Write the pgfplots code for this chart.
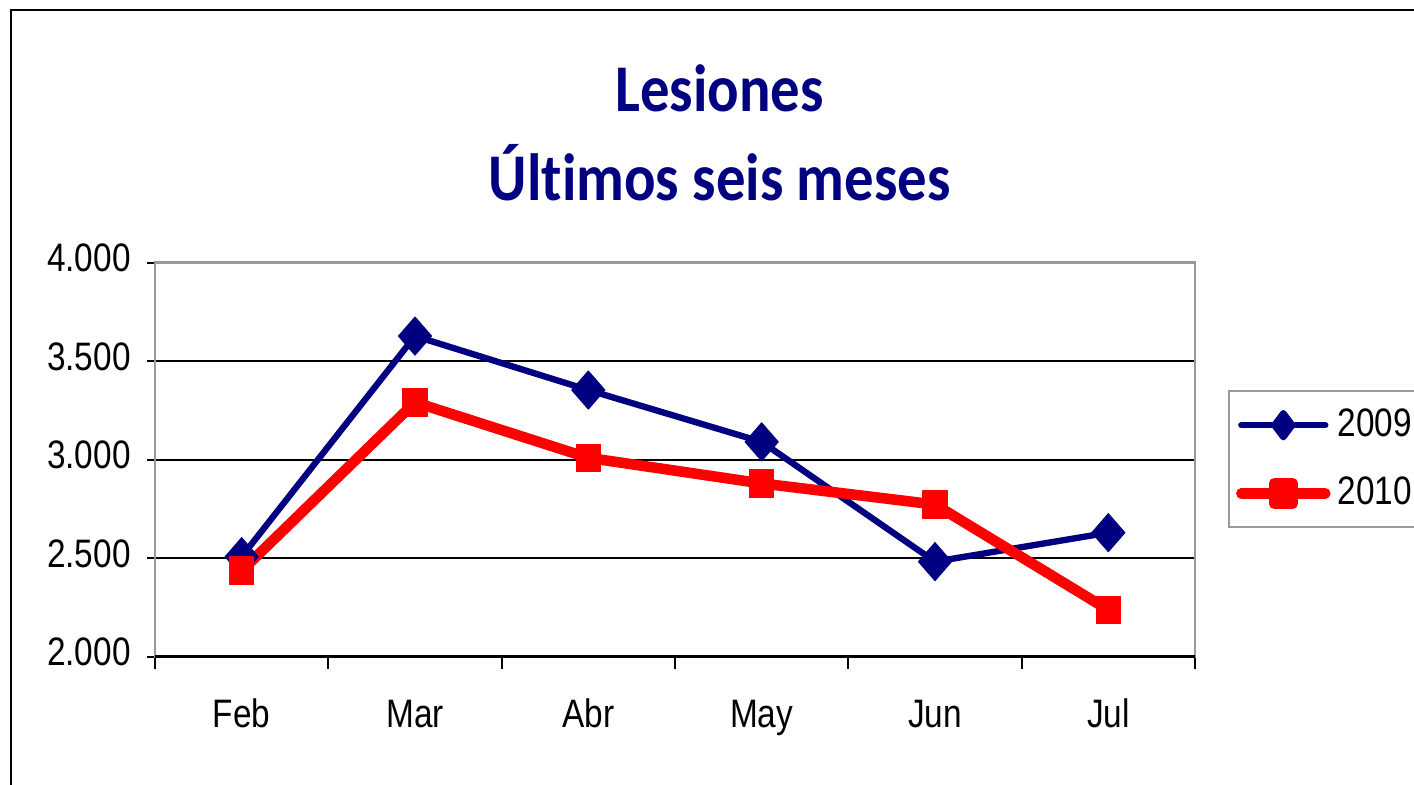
\documentclass[border=0pt]{standalone}
\usepackage{fontspec}
\setmainfont{Liberation Sans}
\newfontfamily\narrowfont[FakeStretch=0.84]{Liberation Sans}
\newfontfamily\titlefont[FakeStretch=0.88, Ligatures={NoCommon}]{Carlito}
\usepackage{pgfplots}
\pgfplotsset{compat=1.18}
\definecolor{navy}{RGB}{0,0,128}

\begin{document}
\begin{tikzpicture}
\begin{axis}[
    name=ax,
    scale only axis,
    width=10.40cm, height=3.94cm,
    clip=false,
    xmin=-0.5, xmax=5.5,
    ymin=2000, ymax=4000,
    xtick={0,...,5},
    xticklabels={Feb,Mar,Abr,May,Jun,Jul},
    minor xtick={-0.5,0.5,...,5.5},
    major x tick style={draw=none},
    xtick pos=lower, ytick pos=left,
    ytick={2000,2500,...,4000},
    ymajorgrids,
    grid style={black, line width=0.5pt},
    tick align=outside,
    major tick length=0.08cm,
    minor tick length=0.12cm,
    axis line style={gray!80, line width=0.8pt},
    tick style={black, line width=0.5pt},
    typeset ticklabels with strut,
    ticklabel style={font=\narrowfont\fontsize{11.3}{13}\selectfont},
    xticklabel style={yshift=-0.18cm},
    yticklabel style={xshift=-0.04cm},
    /pgf/number format/1000 sep={.},
    /pgf/number format/assume math mode=true,
    legend style={at={(rel axis cs:1.0317,0.677)}, anchor=north west,
        draw=gray!80, line width=0.6pt, font=\narrowfont\fontsize{11.3}{13}\selectfont,
        inner xsep=2pt, inner ysep=3pt, row sep=6pt},
    legend cell align=left,
]
\addplot[color=navy, line width=1.8pt, line join=round,
    mark=diamond*, mark size=0.19cm, mark options={solid, line width=0.3pt, fill=navy, xscale=1.16},
    legend image code/.code={\draw[line cap=round, line width=1.8pt, color=navy]
        (0cm,0cm) -- (0.84cm,0cm);
        \fill[navy] (0.42cm,0.12cm) -- (0.51cm,0cm) -- (0.42cm,-0.12cm) -- (0.33cm,0cm) -- cycle;}]
    coordinates {(0,2508) (1,3628) (2,3354) (3,3091) (4,2483) (5,2630)};
\addlegendentry{2009}
\addplot[color=red, line width=3pt, line join=round,
    mark=square*, mark size=0.12cm, mark options={solid, line width=0.3pt, fill=red, yscale=1.15},
    legend image code/.code={\draw[line cap=round, line width=3pt, color=red]
        (0cm,0cm) -- (0.84cm,0cm);
        \fill[red] (0.33cm,-0.105cm) rectangle (0.51cm,0.105cm);}]
    coordinates {(0,2437) (1,3292) (2,3010) (3,2880) (4,2773) (5,2238)};
\addlegendentry{2010}
\draw[black, line width=0.9pt] (rel axis cs:0,0) -- (rel axis cs:1,0);
\node[anchor=base, text=navy, font=\titlefont\bfseries\fontsize{19}{23}\selectfont]
    at (rel axis cs:0.543,1.385) {Lesiones};
\node[anchor=base, text=navy, font=\titlefont\bfseries\fontsize{19}{23}\selectfont]
    at (rel axis cs:0.543,1.159) {Últimos seis meses};
\end{axis}
\draw[black, line width=0.7pt] ([shift={(-1.44cm,-1.4cm)}]ax.south west) |- ([shift={(2.4cm,2.528cm)}]ax.north east);
\pgfresetboundingbox
\path[use as bounding box] ([shift={(-1.55cm,-1.282cm)}]ax.south west) rectangle ([shift={(2.19cm,2.628cm)}]ax.north east);
\end{tikzpicture}
\end{document}
